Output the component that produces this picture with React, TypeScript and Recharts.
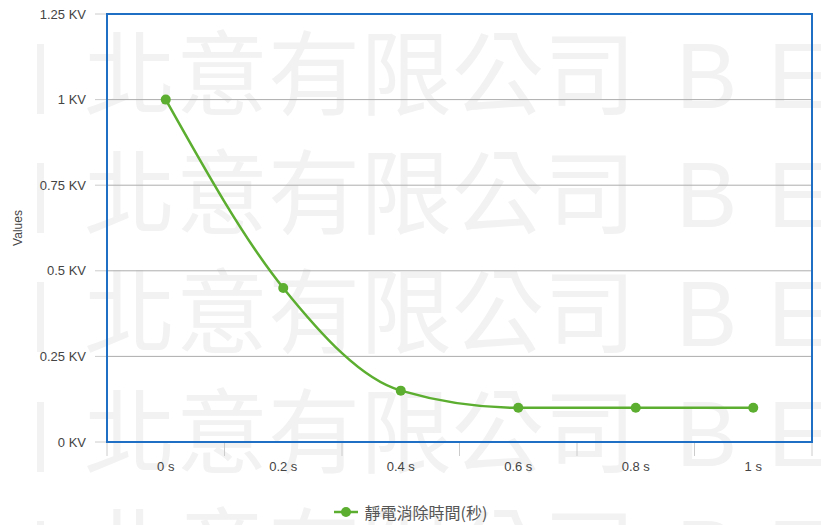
import { LineChart, Line, XAxis, YAxis, CartesianGrid } from 'recharts';

const categories = ['0 s', '0.2 s', '0.4 s', '0.6 s', '0.8 s', '1 s'];
const dischargeKV = [1, 0.45, 0.15, 0.1, 0.1, 0.1];
const yTicks = [0, 0.25, 0.5, 0.75, 1, 1.25];
const seriesName = '靜電消除時間(秒)';
const watermarkRows = [-11, 108, 227, 346, 466, 585];

const data = categories.map((name, i) => ({ name, value: dischargeKV[i] }));

const W = 821;
const H = 525;
const X_AXIS_H = 40;
const Y_AXIS_W = 107;
const M = { top: 14, right: 9, bottom: 83 - X_AXIS_H, left: 0 };
const PLOT_W = W - M.right - Y_AXIS_W;
const PLOT_H = H - M.top - M.bottom - X_AXIS_H;
const PLOT_BOTTOM = M.top + PLOT_H;
const BAND = PLOT_W / categories.length;

const GREEN = '#5bae2f';
const BLUE = '#1f6fc4';
const TEXT = '#444';
const FONT = '"Liberation Sans", Arial, sans-serif';

function XTick(props: any) {
  const { x, index, payload } = props;
  const left = x - BAND / 2;
  return (
    <g>
      <line x1={left} x2={left} y1={PLOT_BOTTOM} y2={PLOT_BOTTOM + 14} stroke="#ccc" />
      {index === categories.length - 1 && (
        <line x1={x + BAND / 2} x2={x + BAND / 2} y1={PLOT_BOTTOM} y2={PLOT_BOTTOM + 14} stroke="#ccc" />
      )}
      <text x={x} y={PLOT_BOTTOM + 29} textAnchor="middle" fill={TEXT} fontSize={13} fontFamily={FONT}>
        {payload.value}
      </text>
    </g>
  );
}

function YLabel(props: any) {
  const { viewBox } = props;
  const cy = viewBox.y + viewBox.height / 2;
  return (
    <text x={22} y={cy} transform={`rotate(-90 22 ${cy})`} textAnchor="middle" fill={TEXT} fontSize={12} fontFamily={FONT}>
      Values
    </text>
  );
}

function Watermark() {
  return (
    <svg width={W} height={H} style={{ position: 'absolute', left: 0, top: 0 }}>
      {watermarkRows.map((y) => (
        <g key={y} fill="#f2f2f2" fontFamily='"Noto Sans CJK TC", sans-serif' fontSize={92}>
          <rect x={37} y={y - 64} width={7} height={70} />
          <text x={84} y={y}>北意有限公司</text>
          <text x={676} y={y} fontFamily={FONT}>B</text>
          <text x={768} y={y} fontFamily={FONT}>E</text>
        </g>
      ))}
    </svg>
  );
}

export default function App() {
  return (
    <div style={{ position: 'absolute', left: 0, top: 0, width: W, height: H, background: '#fff' }}>
      <Watermark />
      <div style={{ position: 'absolute', left: 0, top: 0 }}>
        <LineChart width={W} height={H} data={data} margin={M}>
          <CartesianGrid horizontal vertical={false} stroke="#adadad" />
          <XAxis
            dataKey="name"
            scale="band"
            axisLine={false}
            tickLine={false}
            tick={<XTick />}
            height={X_AXIS_H}
            interval={0}
          />
          <YAxis
            width={Y_AXIS_W}
            domain={[0, 1.25]}
            ticks={yTicks}
            tickFormatter={(v: number) => `${v} KV`}
            tick={{ fill: TEXT, fontSize: 13, fontFamily: FONT }}
            tickLine={{ stroke: '#ccc' }}
            tickSize={12}
            tickMargin={9}
            axisLine={false}
            label={<YLabel />}
          />
          <Line
            type="monotone"
            dataKey="value"
            name={seriesName}
            stroke={GREEN}
            strokeWidth={2.5}
            dot={{ r: 5, fill: GREEN, stroke: GREEN, strokeWidth: 0 }}
            isAnimationActive={false}
          />
        </LineChart>
      </div>
      {/* plot frame */}
      <div
        style={{
          position: 'absolute',
          left: Y_AXIS_W - 1,
          top: M.top - 1,
          width: PLOT_W - 2,
          height: PLOT_H - 2,
          border: `2px solid ${BLUE}`,
          pointerEvents: 'none',
        }}
      />
      <div style={{ position: 'absolute', left: 0, top: 500, width: W, display: 'flex', justifyContent: 'center', alignItems: 'center', fontFamily: '"Noto Sans CJK TC", sans-serif', fontSize: 16, color: '#555' }}>
        <svg width={24} height={14} style={{ marginRight: 7 }}>
          <line x1={0} x2={24} y1={7} y2={7} stroke={GREEN} strokeWidth={2.5} />
          <circle cx={12} cy={7} r={5} fill={GREEN} />
        </svg>
        <span>{seriesName}</span>
      </div>
    </div>
  );
}
